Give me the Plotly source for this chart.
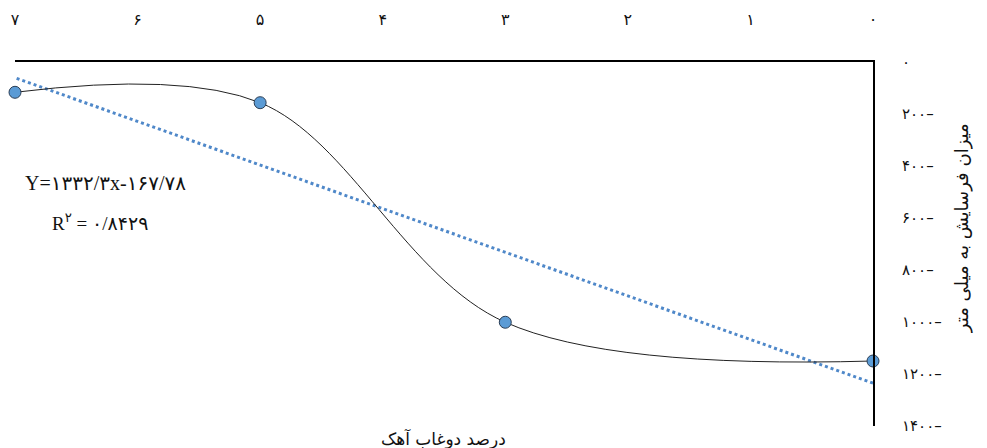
import numpy as np
import plotly.graph_objects as go

# Data (lime slurry percentage vs erosion in mm, shown as negative depth)
lime_pct = [0, 3, 5, 7]
erosion_mm = [-1150, -1001, -156.5, -116.5]

x_ticks = [0, 1, 2, 3, 4, 5, 6, 7]
x_ticktext = ["۰", "۱", "۲", "۳", "۴", "۵", "۶", "۷"]
y_ticks = [0, -200, -400, -600, -800, -1000, -1200, -1400]
y_ticktext = ["۰", "۲۰۰–", "۴۰۰–", "۶۰۰–", "۸۰۰–", "۱۰۰۰–", "۱۲۰۰–", "۱۴۰۰–"]

eq_text = "Y=۱۳۳۲/۳x-۱۶۷/۷۸"
r2_text = "R<sup>۲</sup> = ۰/۸۴۲۹"
x_title = "درصد دوغاب آهک"
y_title = "میزان فرسایش به میلی متر"

# linear trend fitted from the data
slope, intercept = np.polyfit(lime_pct, erosion_mm, 1)
trend_x = [min(lime_pct), max(lime_pct)]
trend_y = [slope * v + intercept for v in trend_x]

fig = go.Figure()
fig.add_trace(go.Scatter(
    x=trend_x, y=trend_y, mode="lines",
    line=dict(color="#4F88C9", width=3, dash="dot"),
    hoverinfo="skip", showlegend=False, cliponaxis=False,
))
fig.add_trace(go.Scatter(
    x=lime_pct, y=erosion_mm, mode="lines+markers",
    line=dict(color="#222222", width=1, shape="spline", smoothing=1.0),
    marker=dict(size=12, color="#5B9BD5", line=dict(color="#2B3E55", width=1)),
    showlegend=False, cliponaxis=False,
))

font_fa = "DejaVu Sans, Liberation Serif"

# page body has an 8px default margin, so the figure is 8px smaller
fig.update_layout(
    width=979, height=440,
    margin=dict(l=7, r=114, t=54, b=22, autoexpand=False),
    paper_bgcolor="white", plot_bgcolor="white",
    xaxis=dict(
        side="top", range=[7, 0], tickvals=x_ticks, ticktext=x_ticktext,
        showgrid=False, zeroline=False, showline=True, linecolor="black",
        linewidth=2, ticks="", ticklabelstandoff=29, automargin=False,
        tickfont=dict(family=font_fa, size=16, color="#111"),
    ),
    yaxis=dict(
        side="right", range=[-1400, 0], tickvals=y_ticks, ticktext=y_ticktext,
        showgrid=False, zeroline=False, showline=True, linecolor="black",
        linewidth=2, ticks="", ticklabelstandoff=24, automargin=False,
        tickfont=dict(family=font_fa, size=15, color="#111"),
    ),
    annotations=[
        dict(text=eq_text, xref="paper", yref="paper", x=0.105, y=0.668,
             showarrow=False, xanchor="center", yanchor="middle",
             font=dict(family="Liberation Serif, DejaVu Sans", size=20, color="#111")),
        dict(text=r2_text, xref="paper", yref="paper", x=0.099, y=0.56,
             showarrow=False, xanchor="center", yanchor="middle",
             font=dict(family="Liberation Serif, DejaVu Sans", size=19, color="#111")),
        dict(text=x_title, xref="paper", yref="paper", x=0.499, y=-0.035,
             showarrow=False, xanchor="center", yanchor="middle",
             font=dict(family=font_fa, size=17, color="#111")),
        dict(text=y_title, xref="paper", yref="paper", x=1.104, y=0.544,
             showarrow=False, xanchor="center", yanchor="middle", textangle=-90,
             font=dict(family=font_fa, size=18, color="#111")),
    ],
)

fig.write_html("out.html")
